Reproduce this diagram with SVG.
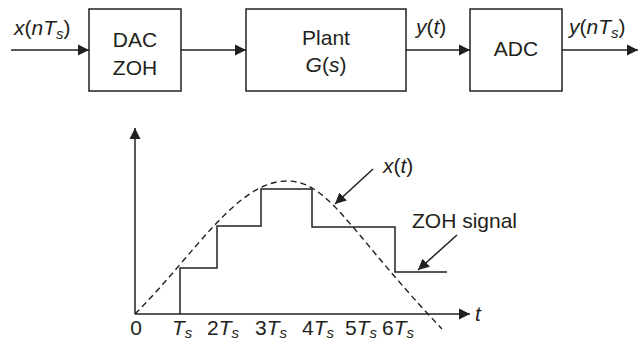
<svg xmlns="http://www.w3.org/2000/svg" width="643" height="342" viewBox="0 0 643 342">
<style>
text{font-family:"Liberation Sans",Arial,sans-serif;font-size:21px;fill:#231f20}
.i{font-style:italic}
.box{fill:#fff;stroke:#231f20;stroke-width:1.5}
.ln{fill:none;stroke:#231f20;stroke-width:1.5}
.dash{fill:none;stroke:#231f20;stroke-width:1.4;stroke-dasharray:6 4}
.sub{font-size:15px;font-style:italic}
</style>
<defs>
<marker id="ah" markerWidth="12" markerHeight="12" refX="11" refY="6" orient="auto" markerUnits="userSpaceOnUse">
<path d="M0,0.5 L11,6 L0,11.5 Z" fill="#231f20"/>
</marker>
</defs>
<g id="connectors">
<line class="ln" x1="11" y1="50" x2="89" y2="50" marker-end="url(#ah)"/>
<line class="ln" x1="181" y1="50" x2="246" y2="50" marker-end="url(#ah)"/>
<line class="ln" x1="406" y1="50" x2="470" y2="50" marker-end="url(#ah)"/>
<line class="ln" x1="562" y1="50" x2="638" y2="50" marker-end="url(#ah)"/>
</g>
<g id="labels">
<text x="14" y="35"><tspan class="i">x</tspan>(<tspan class="i">nT</tspan><tspan class="sub" dy="4">s</tspan><tspan dy="-4">)</tspan></text>
<text x="416" y="34"><tspan class="i">y</tspan>(<tspan class="i">t</tspan>)</text>
<text x="569" y="34"><tspan class="i">y</tspan>(<tspan class="i">nT</tspan><tspan class="sub" dy="4">s</tspan><tspan dy="-4">)</tspan></text>
</g>
<g id="dac">
<rect class="box" x="89" y="9" width="92" height="82"/>
<text x="135" y="47" text-anchor="middle">DAC</text>
<text x="135" y="75" text-anchor="middle">ZOH</text>
</g>
<g id="plant">
<rect class="box" x="246" y="9" width="160" height="82"/>
<text x="326" y="45" text-anchor="middle">Plant</text>
<text x="326" y="72" text-anchor="middle"><tspan class="i">G</tspan>(<tspan class="i">s</tspan>)</text>
</g>
<g id="adc">
<rect class="box" x="470" y="9" width="92" height="82"/>
<text x="516" y="56" text-anchor="middle">ADC</text>
</g>
<g id="plot">
<line class="ln" x1="135" y1="314" x2="135" y2="128" marker-end="url(#ah)"/>
<line class="ln" x1="135" y1="314" x2="470" y2="314" marker-end="url(#ah)"/>
<path class="dash" d="M135,314 C195,254 237,181 287,181 C327,181 348,227.4 428,314 L442,329"/>
<path class="ln" d="M180,314 V268 H217 V226 H261 V189 H312 V227 H395 V272 H447"/>
<line class="ln" x1="373" y1="169" x2="335" y2="204" marker-end="url(#ah)"/>
<line class="ln" x1="457" y1="235" x2="418" y2="270" marker-end="url(#ah)"/>
<text x="383" y="173"><tspan class="i">x</tspan>(<tspan class="i">t</tspan>)</text>
<text x="412" y="228">ZOH signal</text>
<text x="475" y="321" class="i">t</text>
<text x="136" y="335" text-anchor="middle">0</text>
<text x="172" y="335"><tspan class="i">T</tspan><tspan class="sub" dy="3">s</tspan></text>
<text x="207" y="335">2<tspan class="i">T</tspan><tspan class="sub" dy="3">s</tspan></text>
<text x="255" y="335">3<tspan class="i">T</tspan><tspan class="sub" dy="3">s</tspan></text>
<text x="302" y="335">4<tspan class="i">T</tspan><tspan class="sub" dy="3">s</tspan></text>
<text x="345" y="335">5<tspan class="i">T</tspan><tspan class="sub" dy="3">s</tspan></text>
<text x="382" y="335">6<tspan class="i">T</tspan><tspan class="sub" dy="3">s</tspan></text>
</g>
</svg>
